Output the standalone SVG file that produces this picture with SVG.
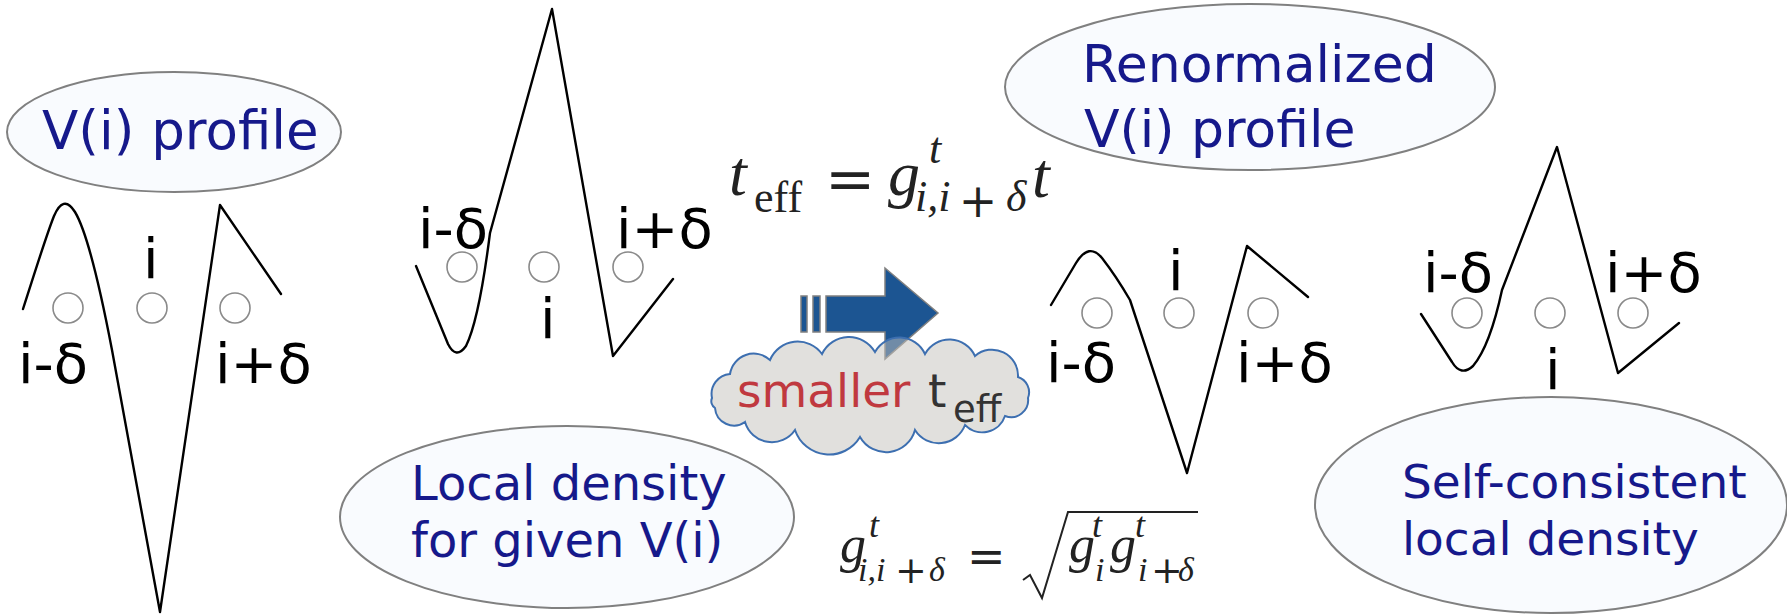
<svg xmlns="http://www.w3.org/2000/svg" width="1787" height="615" viewBox="0 0 1787 615">
<style>
.bg{fill:#ffffff}
.ell{fill:#f9fbfe;stroke:#808080;stroke-width:2}
.nt{font-family:"DejaVu Sans",sans-serif;fill:#16198b}
.curve{fill:none;stroke:#000;stroke-width:2.4;stroke-linejoin:round;stroke-linecap:round}
.site{fill:none;stroke:#8a8a8a;stroke-width:1.6}
.lab{font-family:"DejaVu Sans",sans-serif;font-size:56px;fill:#000}
.math{font-family:"Liberation Serif","DejaVu Serif",serif;fill:#222;font-style:italic}
.up{font-style:normal}
.eq{font-family:"DejaVu Serif",serif;font-style:normal;fill:#222}
.pl{font-family:"DejaVu Serif",serif;font-style:normal;fill:#222;text-anchor:middle}
</style>
<rect class="bg" x="0" y="0" width="1787" height="615"/>

<g id="profile-initial">
  <path class="curve" d="M23,309 C35,272 46,236 54,216 C60,202 67,199 75,212 C87,232 99,282 112,350 L160,612 L220,205 L281,294"/>
  <circle class="site" cx="68" cy="308" r="15"/>
  <circle class="site" cx="152" cy="308" r="15"/>
  <circle class="site" cx="235" cy="308" r="15"/>
  <text class="lab" x="143" y="278">i</text>
  <text class="lab" x="18" y="383">i-δ</text>
  <text class="lab" x="215" y="383">i+δ</text>
</g>

<g id="node-vprofile">
  <ellipse class="ell" cx="174" cy="132" rx="167" ry="60"/>
  <text class="nt" x="42" y="149" font-size="53">V(i) profile</text>
</g>

<g id="profile-density">
  <path class="curve" d="M416,266 L448,344 Q456,360 466,346 Q479,320 490,233 L552,9 L613,356 L673,279"/>
  <circle class="site" cx="462" cy="267" r="15"/>
  <circle class="site" cx="544" cy="267" r="15"/>
  <circle class="site" cx="628" cy="267" r="15"/>
  <text class="lab" x="418" y="248">i-δ</text>
  <text class="lab" x="616" y="248">i+δ</text>
  <text class="lab" x="540" y="338">i</text>
</g>

<g id="node-local-density">
  <ellipse class="ell" cx="567" cy="517" rx="227" ry="91"/>
  <text class="nt" x="411" y="500" font-size="48">Local density</text>
  <text class="nt" x="411" y="557" font-size="48">for given V(i)</text>
</g>

<g id="formula-teff" class="math">
  <text x="729" y="195" font-size="64">t</text>
  <text class="up" x="754" y="212" font-size="44">eff</text>
  <text class="eq" x="825" y="199" font-size="60">=</text>
  <text x="888" y="195" font-size="64">g</text>
  <text x="929" y="163" font-size="44">t</text>
  <text x="915" y="211" font-size="44">i,i</text>
  <text class="pl" x="978" y="217" font-size="46">+</text>
  <text x="1006" y="211" font-size="44">δ</text>
  <text x="1032" y="197" font-size="64">t</text>
</g>

<g id="connectors">
  <g id="arrow">
    <rect x="801" y="296" width="6" height="36" fill="#1c5592" stroke="#808080" stroke-width="1.5"/>
    <rect x="813" y="296" width="7" height="36" fill="#1c5592" stroke="#808080" stroke-width="1.5"/>
    <path d="M826,296 L885,296 L885,268 L938,313 L885,359 L885,332 L826,332 Z" fill="#1c5592" stroke="#808080" stroke-width="1.5" stroke-linejoin="miter"/>
  </g>
</g>

<g id="node-cloud">
  <path d="M712,398 A20,20 0 0 1 730,374 A24,24 0 0 1 770,360 A30,30 0 0 1 822,354 A30,30 0 0 1 875,352 A28,28 0 0 1 925,354 A28,28 0 0 1 975,356 A26,26 0 0 1 1018,377 A16,16 0 0 1 1028,398 A17,17 0 0 1 1005,416 A24,24 0 0 1 965,425 A28,28 0 0 1 915,430 A30,30 0 0 1 860,437 A36,36 0 0 1 795,430 A28,28 0 0 1 745,422 A19,19 0 0 1 715,408 A8,8 0 0 1 712,398 Z" fill="#c4c1bc" fill-opacity="0.5" stroke="#3d6fb0" stroke-width="2"/>
  <text x="737" y="407" font-family="DejaVu Sans,sans-serif" font-size="47" fill="#c0393f">smaller</text>
  <text x="928" y="407" font-family="DejaVu Sans,sans-serif" font-size="47" fill="#333">t</text>
  <text x="953" y="422" font-family="DejaVu Sans,sans-serif" font-size="37" fill="#333">eff</text>
</g>

<g id="formula-g" class="math">
  <text x="840" y="562" font-size="52">g</text>
  <text x="869" y="537" font-size="36">t</text>
  <text x="858" y="581" font-size="34">i,i</text>
  <text class="pl" x="911" y="583" font-size="38">+</text>
  <text x="929" y="581" font-size="34">δ</text>
  <text class="eq" x="967" y="572" font-size="46">=</text>
  <path d="M1023,580 L1030,575 L1042,598 L1068,512 L1198,512" fill="none" stroke="#222" stroke-width="2"/>
  <text x="1069" y="562" font-size="52">g</text>
  <text x="1092" y="537" font-size="36">t</text>
  <text x="1095" y="581" font-size="34">i</text>
  <text x="1110" y="562" font-size="52">g</text>
  <text x="1135" y="537" font-size="36">t</text>
  <text x="1138" y="581" font-size="34">i</text>
  <text class="pl" x="1167" y="583" font-size="38">+</text>
  <text x="1178" y="581" font-size="34">δ</text>
</g>

<g id="node-renormalized">
  <ellipse class="ell" cx="1250" cy="87" rx="245" ry="83"/>
  <text class="nt" x="1082" y="82" font-size="52">Renormalized</text>
  <text class="nt" x="1084" y="147" font-size="52">V(i) profile</text>
</g>

<g id="profile-renormalized">
  <path class="curve" d="M1051,305 L1076,263 Q1089,242 1102,258 Q1116,276 1130,300 L1187,473 L1247,246 L1308,297"/>
  <circle class="site" cx="1097" cy="313" r="15"/>
  <circle class="site" cx="1179" cy="313" r="15"/>
  <circle class="site" cx="1263" cy="313" r="15"/>
  <text class="lab" x="1168" y="290">i</text>
  <text class="lab" x="1046" y="382">i-δ</text>
  <text class="lab" x="1236" y="382">i+δ</text>
</g>

<g id="profile-selfconsistent">
  <path class="curve" d="M1421,314 L1452,362 Q1461,377 1473,366 Q1490,346 1502,290 L1557,147 L1618,373 L1679,323"/>
  <circle class="site" cx="1467" cy="313" r="15"/>
  <circle class="site" cx="1550" cy="313" r="15"/>
  <circle class="site" cx="1633" cy="313" r="15"/>
  <text class="lab" x="1423" y="292">i-δ</text>
  <text class="lab" x="1605" y="292">i+δ</text>
  <text class="lab" x="1545" y="389">i</text>
</g>

<g id="node-selfconsistent">
  <ellipse class="ell" cx="1551" cy="505" rx="236" ry="108"/>
  <text class="nt" x="1402" y="498" font-size="47">Self-consistent</text>
  <text class="nt" x="1402" y="555" font-size="47">local density</text>
</g>
</svg>
